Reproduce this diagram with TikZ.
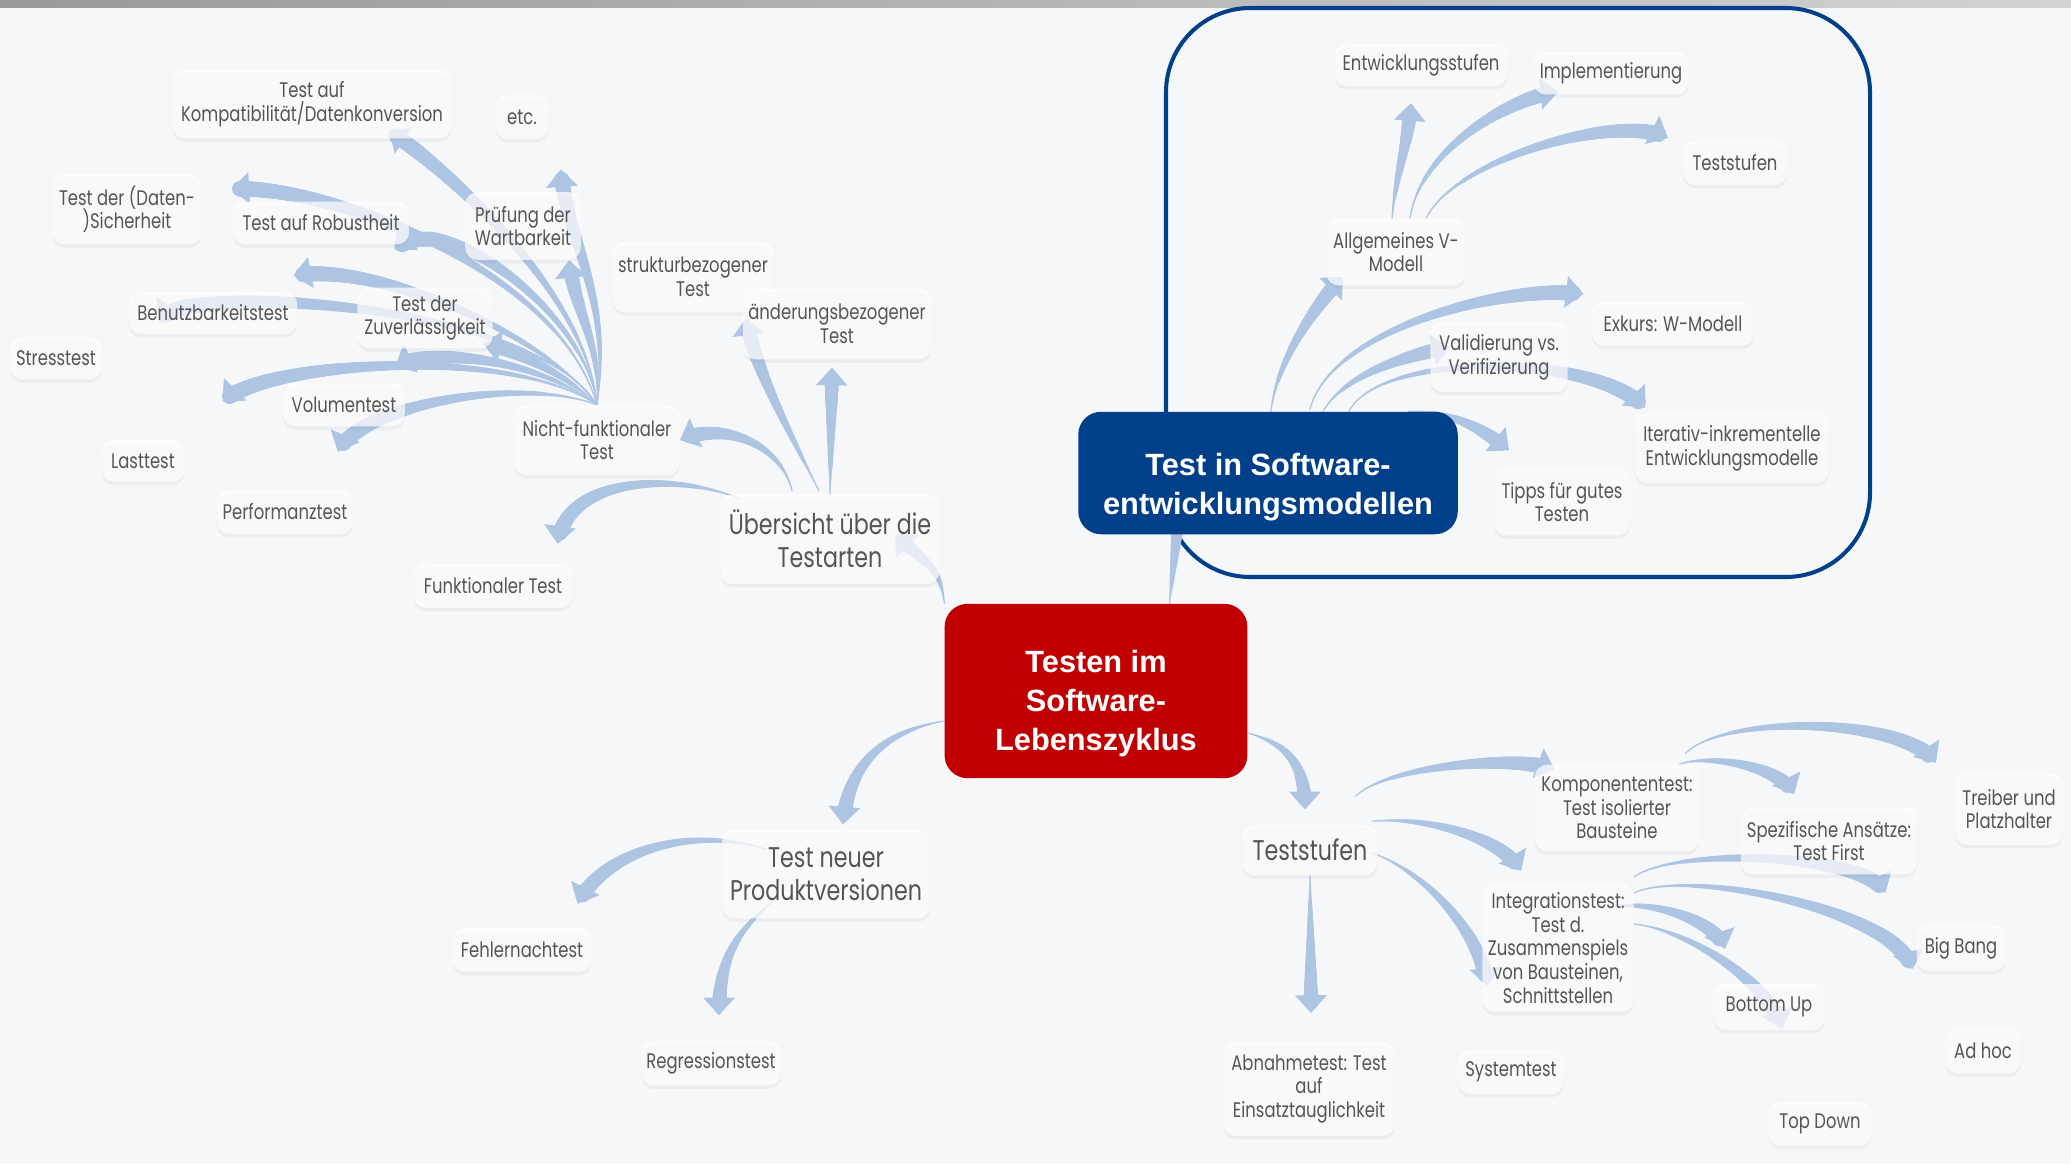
\documentclass[tikz,border=0pt]{standalone}
\usepackage{fontspec}
\setmainfont{Liberation Sans}
\newfontfamily\mapfont[FakeStretch=0.78]{Poppins}
\usepackage{tikz}
\usetikzlibrary{arrows.meta,calc,shadows,decorations.markings}
\definecolor{arrowblue}{HTML}{ADC4E3}
\definecolor{nodegrey}{HTML}{555555}
\definecolor{rootred}{HTML}{C00000}
\definecolor{mainblue}{HTML}{003F8A}
\definecolor{paper}{HTML}{F6F7F9}
\pgfdeclarelayer{back}
\pgfdeclarelayer{links}
\pgfsetlayers{back,links,main}
\tikzset{
    box size/.style 2 args = {minimum width=#1*0.5669pt, minimum height=#2*0.5669pt},
    Topic/.style = {fill=white, fill opacity=0.72, text opacity=1, text=nodegrey,
        rounded corners=7pt, align=center, inner xsep=3pt, inner ysep=3pt,
        font=\mapfont\fontsize{12}{13.5}\selectfont,
        drop shadow={opacity=0.08, shadow xshift=0pt, shadow yshift=-2pt}},
    Big topic/.style = {Topic, font=\mapfont\fontsize{16.2}{19}\selectfont},
    Root/.style = {fill=#1, text=white, rounded corners=13pt, align=center,
        font=\bfseries\fontsize{17.5}{22}\selectfont},
    branch/.style = {draw=arrowblue, line width=0.6pt,
        -{Triangle[width=18pt,length=10pt]},
        decoration={markings,
            mark=between positions 0 and -6pt step 0.8pt with {%
                \pgfmathsetmacro\rad{0.3+4.3*\pgfkeysvalueof{/pgf/decoration/mark info/distance from start}/\pgfdecoratedpathlength}%
                \fill[arrowblue] (0,0) circle (\rad pt);}},
        postaction=decorate}
}

\begin{document}
\begin{tikzpicture}[x=0.02cm, y=-0.02cm]
\useasboundingbox (0,0) rectangle (2071,1164);
\begin{pgfonlayer}{back}
    \fill[paper] (0,0) rectangle (2071,1164);
    \shade[left color=gray!80, right color=gray!35] (0,0) rectangle (2071,7);
\end{pgfonlayer}

% centre
\node[Root=rootred, box size={304}{175}] (cen) at (1096,691) {\rule{0pt}{27pt}Testen im\\Software-\\Lebenszyklus};
\node[Root=mainblue, box size={381}{123}] (tsm) at (1268,473) {\rule{0pt}{29pt}Test in Software-\\entwicklungsmodellen};

% Testarten
\node[Big topic, box size={220}{90}] (ueb) at (830,539) {Übersicht über die\\Testarten};
\node[Topic, box size={166}{70}] (nf) at (597,440) {Nicht-funktionaler\\Test};
\node[Topic, box size={159}{44}] (fun) at (493,586) {Funktionaler Test};
\node[Topic, box size={159}{71}] (str) at (693,277) {strukturbezogener\\Test};
\node[Topic, box size={179}{71}] (aend) at (837,324) {änderungsbezogener\\Test};
\node[Topic, box size={280}{69}] (kom) at (312,104) {Test auf\\Kompatibilität/Datenkonversion};
\node[Topic, box size={53}{44}] (etc) at (522,117) {etc.};
\node[Topic, box size={149}{71}] (sich) at (127,209) {Test der (Daten-\\)Sicherheit};
\node[Topic, box size={177}{43}] (rob) at (321,223) {Test auf Robustheit};
\node[Topic, box size={116}{68}] (wart) at (523,226) {Prüfung der\\Wartbarkeit};
\node[Topic, box size={169}{42}] (ben) at (213,313) {Benutzbarkeitstest};
\node[Topic, box size={136}{61}] (zuv) at (425,318) {Test der\\Zuverlässigkeit};
\node[Topic, box size={91}{43}] (stress) at (56,358) {Stresstest};
\node[Topic, box size={122}{43}] (vol) at (344,405) {Volumentest};
\node[Topic, box size={83}{42}] (last) at (143,461) {Lasttest};
\node[Topic, box size={137}{44}] (perf) at (285,512) {Performanztest};

% Vorgehensmodelle
\node[Topic, box size={174}{42}] (ent) at (1421,65) {Entwicklungsstufen};
\node[Topic, box size={156}{43}] (impl) at (1611,73) {Implementierung};
\node[Topic, box size={104}{44}] (tstop) at (1735,163) {Teststufen};
\node[Topic, box size={140}{67}] (avm) at (1396,252) {Allgemeines V-\\Modell};
\node[Topic, box size={163}{44}] (exk) at (1673,324) {Exkurs: W-Modell};
\node[Topic, box size={138}{70}] (val) at (1499,357) {Validierung vs.\\Verifizierung};
\node[Topic, box size={194}{70}] (iter) at (1732,448) {Iterativ-inkrementelle\\Entwicklungsmodelle};
\node[Topic, box size={136}{67}] (tipps) at (1562,502) {Tipps für gutes\\Testen};

% Produktversionen
\node[Big topic, box size={209}{89}] (tnp) at (826,874) {Test neuer\\Produktversionen};
\node[Topic, box size={139}{44}] (fehl) at (522,950) {Fehlernachtest};
\node[Topic, box size={139}{45}] (reg) at (711,1063) {Regressionstest};

% Teststufen
\node[Big topic, box size={135}{51}] (tsb) at (1310,850) {Teststufen};
\node[Topic, box size={165}{87}] (komp) at (1617,808) {Komponententest:\\Test isolierter\\Bausteine};
\node[Topic, box size={177}{67}] (spez) at (1829,841) {Spezifische Ansätze:\\Test First};
\node[Topic, box size={108}{72}] (treib) at (2009,809) {Treiber und\\Platzhalter};
\node[Topic, box size={152}{128}] (integ) at (1558,948) {Integrationstest:\\Test d.\\Zusammenspiels\\von Bausteinen,\\Schnittstellen};
\node[Topic, box size={89}{46}] (big) at (1961,948) {Big Bang};
\node[Topic, box size={112}{46}] (bu) at (1769,1007) {Bottom Up};
\node[Topic, box size={75}{45}] (adhoc) at (1983,1051) {Ad hoc};
\node[Topic, box size={172}{94}] (abn) at (1309,1089) {Abnahmetest: Test\\auf\\Einsatztauglichkeit};
\node[Topic, box size={106}{44}] (sys) at (1511,1072) {Systemtest};
\node[Topic, box size={103}{44}] (td) at (1820,1124) {Top Down};

\begin{pgfonlayer}{links}
    \draw[mainblue, line width=2.3pt, rounded corners=48pt] (1166,8) rectangle (1870,577);
    % from the root
    \draw[branch] (cen.150) .. controls +(-5,-40) and +(30,30) .. ($(ueb.east)+(-45,-5)$);
    \draw[branch] (cen.50) -- ($(tsm.south west)+(102,-30)$);
    \draw[branch] ($(cen.west)+(0,30)$) .. controls +(-60,10) and +(5,-60) .. ($(tnp.north)+(17,-5)$);
    \draw[branch] ($(cen.east)+(0,42)$) .. controls +(35,10) and +(0,-50) .. ($(tsb.north)+(-5,-15)$);
    % Testarten
    \draw[branch] ($(ueb.north)+(-38,-3)$) .. controls +(-10,-45) and +(45,-20) .. (nf.east);
    \draw[branch] ($(ueb.north west)+(20,5)$) .. controls +(-60,-25) and +(10,-70) .. ($(fun.north east)+(-15,-20)$);
    \draw[branch] (ueb.north) -- ($(aend.south)+(-5,8)$);
    \draw[branch] ($(ueb.north)+(-11,-3)$) .. controls +(-25,-50) and +(5,45) .. ($(str.south east)+(-27,5)$);
    \foreach \child/\anc/\dx/\dy/\ax/\ay/\bx/\by in {
        kom/south/77/-8/-10/-110/60/40, etc/south east/12/30/15/-110/5/70,
        sich/east/30/-20/-40/-140/90/-5, rob/south east/-15/5/-10/-90/50/-45,
        wart/south east/-12/0/5/-60/5/50, stress/north east/57/-16/-60/-100/30/-40,
        ben/north east/-4/-16/-50/-70/80/-15, zuv/south east/-10/-5/-30/-30/30/5,
        vol/north east/-10/-17/-60/-45/40/-20, last/north east/38/-38/-90/-60/40/-40,
        perf/north/53/-38/-80/-30/20/-45}
        {\draw[branch] (nf.north) .. controls +(\ax,\ay) and +(\bx,\by) .. ($(\child.\anc)+(\dx,\dy)$);}
    % Vorgehensmodelle
    \draw[branch] ($(tsm.north)+(3,0)$) .. controls +(5,-50) and +(-25,25) .. ($(avm.south west)+(17,-9)$);
    \draw[branch] ($(tsm.north)+(42,-2)$) .. controls +(20,-80) and +(-80,-10) .. ($(exk.west)+(-8,-30)$);
    \draw[branch] ($(tsm.north)+(55,0)$) .. controls +(20,-35) and +(-50,10) .. ($(val.west)+(20,-10)$);
    \draw[branch] ($(tsm.north)+(81,0)$) .. controls +(30,-60) and +(-50,-55) .. ($(iter.north west)+(10,-5)$);
    \draw[branch] ($(tsm.north)+(140,0)$) .. controls +(40,0) and +(-30,-25) .. ($(tipps.north west)+(15,-18)$);
    \draw[branch] ($(avm.north)+(-4,0)$) .. controls +(3,-40) and +(-3,40) .. ($(ent.south)+(-10,17)$);
    \draw[branch] ($(avm.north)+(14,0)$) .. controls +(10,-70) and +(-45,5) .. ($(impl.south west)+(25,-3)$);
    \draw[branch] ($(avm.north)+(30,0)$) .. controls +(30,-60) and +(-50,-25) .. ($(tstop.north west)+(-15,-3)$);
    % Produktversionen
    \draw[branch] ($(tnp.north west)+(45,20)$) .. controls +(-80,-25) and +(25,-50) .. ($(fehl.north east)+(-14,-24)$);
    \draw[branch] ($(tnp.south west)+(52,-18)$) .. controls +(-35,30) and +(0,-60) .. ($(reg.north)+(8,-25)$);
    % Teststufen
    \draw[branch] ($(tsb.north east)+(-22,-28)$) .. controls +(30,-30) and +(-40,-15) .. ($(komp.north west)+(20,5)$);
    \draw[branch] ($(tsb.north east)+(-5,-3)$) .. controls +(50,-5) and +(-20,-35) .. ($(integ.north)+(-37,-13)$);
    \draw[branch] ($(tsb.east)+(-5,3)$) .. controls +(55,20) and +(-5,-50) .. ($(sys.north)+(-24,-64)$);
    \draw[branch] (tsb.south) -- ($(abn.north)+(2,-29)$);
    \draw[branch] ($(komp.north east)+(-20,0)$) .. controls +(25,-10) and +(-15,-30) .. ($(spez.north)+(-35,-13)$);
    \draw[branch] ($(komp.north east)+(-14,-11)$) .. controls +(40,-40) and +(-30,-45) .. ($(treib.north west)+(-19,-10)$);
    \draw[branch] ($(integ.east)+(0,-71)$) .. controls +(40,-30) and +(-20,-40) .. ($(big.north west)+(-31,-32)$);
    \draw[branch] ($(integ.east)+(0,-55)$) .. controls +(50,-25) and +(-15,-60) .. ($(adhoc.north west)+(-33,-59)$);
    \draw[branch] ($(integ.east)+(-28,-40)$) .. controls +(40,-10) and +(-10,-30) .. ($(bu.north)+(-44,-35)$);
    \draw[branch] ($(integ.east)+(0,-24)$) .. controls +(50,5) and +(-15,-50) .. ($(td.north)+(-38,-73)$);
\end{pgfonlayer}
\end{tikzpicture}
\end{document}
